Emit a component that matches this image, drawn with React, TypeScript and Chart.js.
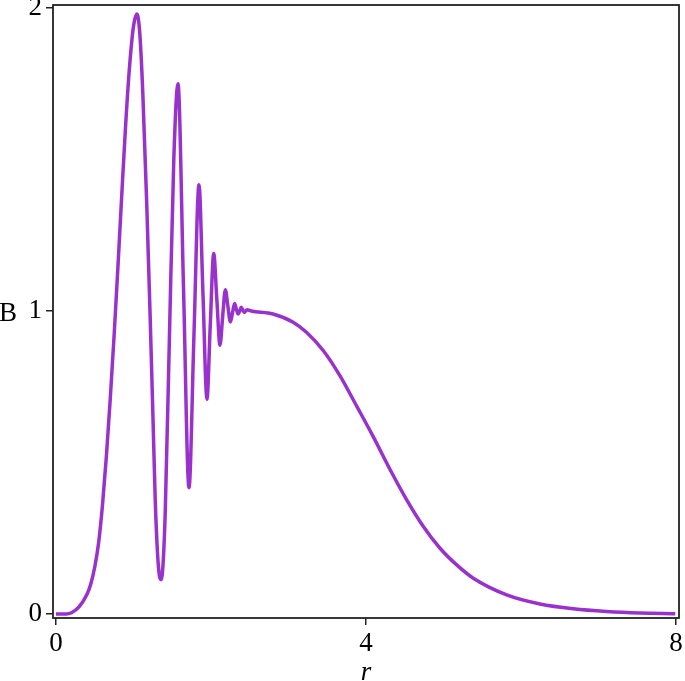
import React, { useEffect, useRef } from "react";
import { Chart, registerables } from "chart.js";

Chart.register(...registerables);

// r values (x) and B values (y)
const rValues = [
  0, 0.13, 0.2, 0.3, 0.4, 0.45, 0.5, 0.55, 0.6, 0.65, 0.7, 0.75, 0.8, 0.85,
  0.9, 0.95, 1.0, 1.045, 1.08, 1.12, 1.17, 1.215, 1.25, 1.28, 1.31, 1.335,
  1.355, 1.38, 1.41, 1.465, 1.52, 1.574, 1.645, 1.716, 1.78, 1.845, 1.896,
  1.948, 1.99, 2.035, 2.075, 2.116, 2.15, 2.185, 2.218, 2.25, 2.278, 2.305,
  2.328, 2.35, 2.37, 2.39, 2.41, 2.43, 2.465, 2.52, 2.8, 3.06, 3.235, 3.45,
  3.665, 3.88, 4.09, 4.31, 4.525, 4.74, 4.955, 5.17, 5.385, 5.815, 6.245,
  6.675, 7.105, 7.535, 7.99,
];
const bValues = [
  0, 0, 0.004, 0.024, 0.065, 0.1, 0.155, 0.235, 0.36, 0.52, 0.71, 0.92, 1.15,
  1.39, 1.62, 1.81, 1.94, 1.98, 1.92, 1.72, 1.36, 0.98, 0.66, 0.38, 0.2,
  0.125, 0.113, 0.16, 0.34, 0.93, 1.5, 1.75, 1.08, 0.417, 0.92, 1.417, 1.06,
  0.709, 0.95, 1.19, 1.04, 0.887, 0.98, 1.07, 1.015, 0.964, 0.995, 1.025,
  1.005, 0.99, 1.0, 1.012, 1.003, 0.995, 1.004, 1.0, 0.99, 0.963, 0.929,
  0.869, 0.786, 0.686, 0.587, 0.477, 0.377, 0.289, 0.217, 0.162, 0.118,
  0.063, 0.033, 0.017, 0.008, 0.003, 0.001,
];
const xTicks = [0, 4, 8];
const yTicks = [0, 1, 2];
const xTitle = "r";
const yTitle = "B";

const FONT = "'Liberation Serif', 'Times New Roman', serif";

export default function App() {
  const ref = useRef<HTMLCanvasElement>(null);

  useEffect(() => {
    document.body.style.margin = "0";
    const canvas = ref.current;
    if (!canvas) return;

    const framePlugin = {
      id: "frameAndTitles",
      afterDraw(chart: any) {
        const { ctx, chartArea: a } = chart;
        ctx.save();
        ctx.strokeStyle = "#222";
        ctx.lineWidth = 1.8;
        ctx.strokeRect(a.left, a.top, a.right - a.left, a.bottom - a.top);
        ctx.fillStyle = "#000";
        ctx.textAlign = "center";
        ctx.textBaseline = "alphabetic";
        ctx.font = `27px ${FONT}`;
        ctx.fillText(yTitle, 8, 321);
        ctx.font = `italic 27px ${FONT}`;
        ctx.fillText(xTitle, (a.left + a.right) / 2, 680);
        ctx.restore();
      },
    };

    const chart = new Chart(canvas, {
      type: "line",
      data: {
        datasets: [
          {
            data: rValues.map((r, i) => ({ x: r, y: bValues[i] })),
            borderColor: "#9932CC",
            borderWidth: 3.5,
            pointRadius: 0,
            cubicInterpolationMode: "monotone",
            fill: false,
          },
        ],
      },
      options: {
        animation: false,
        responsive: false,
        layout: { padding: { top: 5, right: 6, left: 0, bottom: 0 } },
        plugins: { legend: { display: false }, tooltip: { enabled: false } },
        scales: {
          x: {
            type: "linear",
            min: -0.0387,
            max: 8.0387,
            afterBuildTicks: (s: any) => {
              s.ticks = xTicks.map((v) => ({ value: v }));
            },
            afterFit: (s: any) => {
              s.height = 63;
              s.paddingLeft = 0;
              s.paddingRight = 0;
            },
            grid: {
              drawOnChartArea: false,
              drawTicks: true,
              tickLength: 7,
              color: "#222",
              lineWidth: 1.5,
            },
            border: { display: false },
            ticks: {
              font: { family: FONT, size: 27 },
              color: "#000",
              padding: 3,
              maxRotation: 0,
              autoSkip: false,
            },
          },
          y: {
            type: "linear",
            min: -0.0132,
            max: 2.0099,
            afterBuildTicks: (s: any) => {
              s.ticks = yTicks.map((v) => ({ value: v }));
            },
            afterFit: (s: any) => {
              s.width = 53;
              s.paddingTop = 0;
              s.paddingBottom = 0;
            },
            grid: {
              drawOnChartArea: false,
              drawTicks: true,
              tickLength: 7,
              color: "#222",
              lineWidth: 1.5,
            },
            border: { display: false },
            ticks: {
              font: { family: FONT, size: 27 },
              color: "#000",
              padding: 4,
              autoSkip: false,
            },
          },
        },
      },
      plugins: [framePlugin],
    } as any);

    return () => chart.destroy();
  }, []);

  return (
    <canvas ref={ref} width={685} height={681} style={{ display: "block" }} />
  );
}
